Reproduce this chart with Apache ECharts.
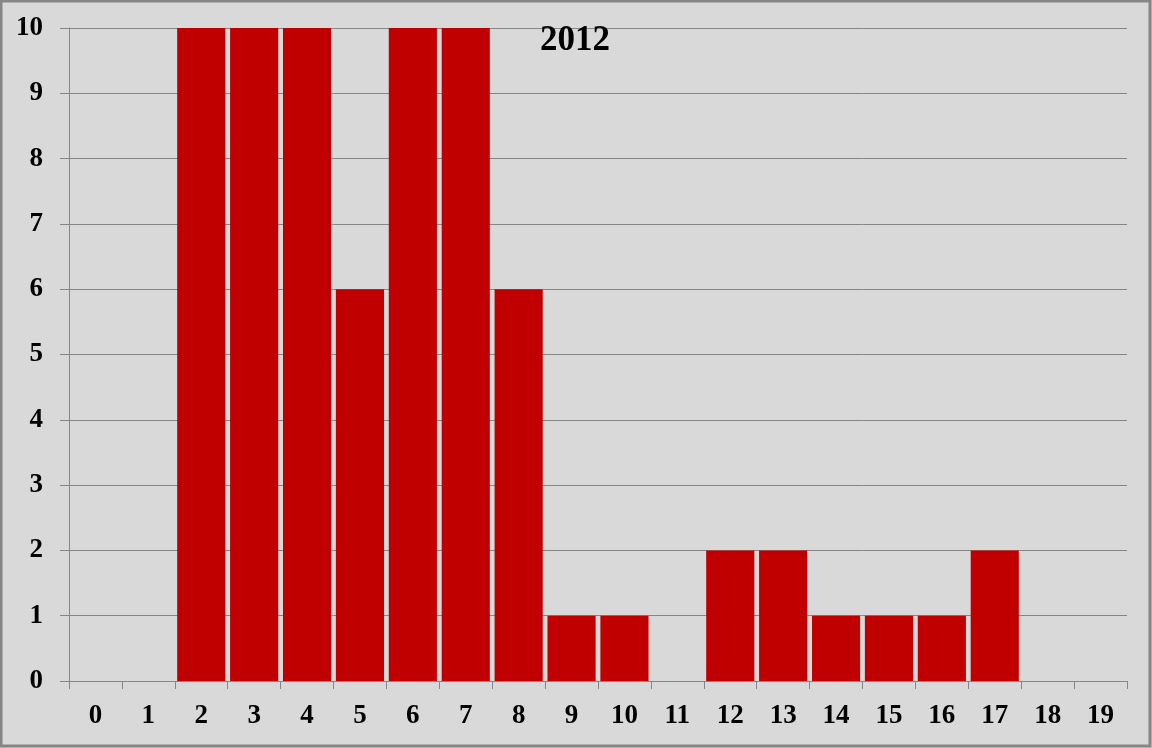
<!DOCTYPE html>
<html>
<head>
<meta charset="utf-8">
<script src="https://cdn.jsdelivr.net/npm/echarts@6/dist/echarts.min.js"></script>
<style>
  html, body { margin: 0; padding: 0; }
  #chart { width: 1152px; height: 748px; }
</style>
</head>
<body>
<div id="chart"></div>
<script>
// 分类（0-19）和每类的数量
const categories = ['0', '1', '2', '3', '4', '5', '6', '7', '8', '9', '10',
  '11', '12', '13', '14', '15', '16', '17', '18', '19'];
const counts = [0, 0, 10, 10, 10, 6, 10, 10, 6, 1, 1, 0, 2, 2, 1, 1, 1, 2, 0, 0];
const titleText = '2012';

const chart = echarts.init(document.getElementById('chart'));
const labelFont = {
  fontFamily: '"Liberation Serif", "Times New Roman", serif',
  fontWeight: 'bold',
  fontSize: 27,
  color: '#000'
};

const option = {
  backgroundColor: '#d9d9d9',
  animation: false,
  title: {
    text: titleText,
    left: 570,
    top: 18,
    textAlign: 'center',
    textStyle: {
      fontFamily: '"Liberation Serif", "Times New Roman", serif',
      fontWeight: 'bold',
      fontSize: 35,
      color: '#000'
    }
  },
  // 外边框
  graphic: [{
    type: 'rect',
    shape: {x: 1, y: 1, width: 1149, height: 745},
    style: {fill: 'none', stroke: '#868686', lineWidth: 3},
    silent: true
  }],
  grid: {left: 69, right: 25, top: 28, bottom: 67},
  xAxis: {
    type: 'category',
    data: categories,
    axisLine: {lineStyle: {color: '#868686', width: 1}},
    axisTick: {show: true, length: 8, lineStyle: {color: '#868686'}},
    axisLabel: Object.assign({margin: 22, interval: 0}, labelFont)
  },
  yAxis: {
    type: 'value',
    min: 0,
    max: 10,
    interval: 1,
    axisLine: {show: true, lineStyle: {color: '#868686', width: 1}},
    axisTick: {show: true, length: 9, lineStyle: {color: '#868686'}},
    splitLine: {lineStyle: {color: '#868686', width: 1}},
    axisLabel: Object.assign({margin: 26}, labelFont)
  },
  series: [{
    type: 'bar',
    data: counts,
    barCategoryGap: '9%',
    itemStyle: {color: '#c00000'}
  }]
};
chart.setOption(option);
</script>
</body>
</html>
